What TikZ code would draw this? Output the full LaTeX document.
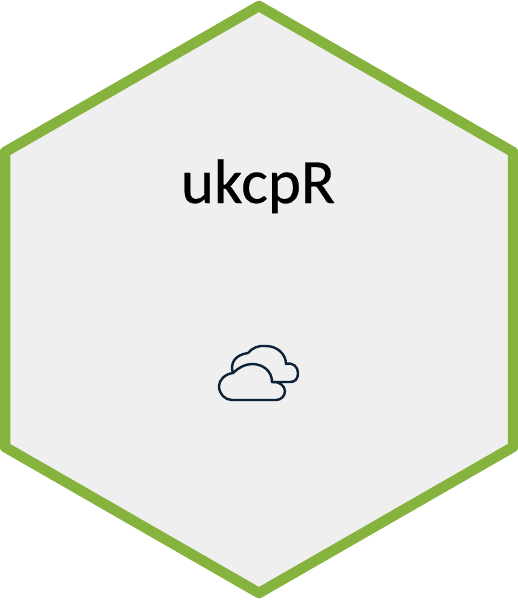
\documentclass[tikz,border=0pt]{standalone}
\usepackage{fontspec}
\setmainfont[FakeBold=0.4]{Carlito}
\definecolor{hexgreen}{HTML}{86B23E}
\definecolor{hexfill}{HTML}{EFEFEF}
\definecolor{cloudink}{HTML}{0B2138}
\tikzset{
  hexa/.style={draw=hexgreen,fill=hexfill,line width=10.5pt,line join=round},
  cloudline/.style={draw=cloudink,line width=2.4pt,line join=round,line cap=round},
  title/.style={font=\fontsize{63pt}{70pt}\selectfont,text=black,inner sep=0pt}
}
\begin{document}
\begin{tikzpicture}[x=1pt,y=-1pt]
\useasboundingbox (0,0) rectangle (518,600);
\fill[white] (0,0) rectangle (518,600);
\draw[hexa] (259,6) -- (513,152) -- (513,447) -- (259,593) -- (5,447) -- (5,152) -- cycle;
\node[title,anchor=base] (name) at (258,203) {ukcpR};
% back cloud
\draw[cloudline] (233,373) .. controls (230,364) and (234,355) .. (248,353)
  .. controls (252,348) and (259,345) .. (266,346)
  .. controls (277,346) and (286,354) .. (286,364)
  .. controls (293,362) and (298,367) .. (298,373)
  .. controls (298,379) and (295,382) .. (290,382) -- (272,382);
% front cloud
\draw[cloudline] (232,400) -- (276,400)
  .. controls (281,400) and (285,396) .. (285,391)
  .. controls (285,386) and (279,381) .. (272,382)
  .. controls (272,371) and (263,364) .. (252,364)
  .. controls (245,364) and (238,368) .. (233,373)
  .. controls (225,374) and (219,380) .. (219,386)
  .. controls (219,394) and (225,400) .. (232,400) -- cycle;
\end{tikzpicture}
\end{document}
